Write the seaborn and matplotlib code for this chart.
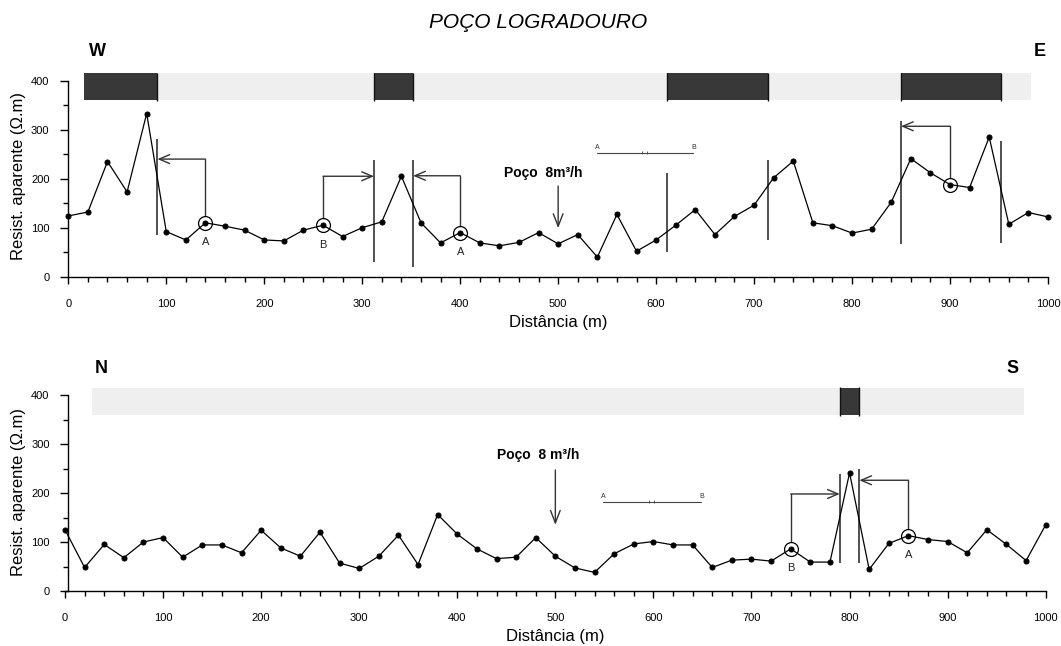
import numpy as np
import pandas as pd
import matplotlib
matplotlib.use("Agg")
import matplotlib.pyplot as plt
from matplotlib.ticker import MultipleLocator
import seaborn as sns

# ---------------- data ----------------
dist = list(range(0, 1001, 20))

# Profile W-E (apparent resistivity, ohm.m)
rho_we = [124, 132, 235, 173, 333, 92, 75, 110, 103, 95, 75, 73, 95, 105, 82,
          100, 112, 205, 110, 69, 90, 69, 63, 70, 90, 67, 86, 40, 127, 52, 75,
          105, 137, 86, 123, 146, 202, 236, 110, 104, 89, 97, 152, 241, 212,
          188, 182, 285, 107, 131, 122]

# Profile N-S
rho_ns = [125, 48, 95, 68, 100, 109, 69, 94, 94, 78, 124, 88, 71, 120, 57,
          46, 71, 114, 54, 156, 116, 86, 66, 69, 109, 71, 47, 38, 76, 96, 101,
          94, 94, 48, 63, 65, 61, 86, 59, 59, 241, 44, 97, 113, 105, 101, 78,
          125, 95, 62, 135]

# Interpretation strip: full extent and conductive (dark) zones
we_strip = (16, 983)
we_dark_start = [16, 312, 611, 850]
we_dark_end = [91, 352, 714, 952]
ns_strip = (28, 978)
ns_dark_start = [790]
ns_dark_end = [810]

# Anomaly boundaries: x, lower y, upper y
we_bound_x = [91, 312, 352, 611, 714, 850, 952]
we_bound_lo = [86, 31, 20, 51, 75, 67, 69]
we_bound_hi = [282, 238, 238, 212, 239, 318, 277]
ns_bound_x = [790, 810]
ns_bound_lo = [58, 58]
ns_bound_hi = [238, 249]

# Pole-dipole picks: station, label, height of arrow, boundary pointed at
we_pick_x = [140, 260, 400, 900]
we_pick_lbl = ["A", "B", "A", ""]
we_pick_turn = [240, 205, 206, 307]
we_pick_to = [91, 312, 352, 850]
ns_pick_x = [740, 860]
ns_pick_lbl = ["B", "A"]
ns_pick_turn = [198, 226]
ns_pick_to = [790, 810]

# Well position and discharge label
well_x = 500
we_well = dict(label="Poço  8m³/h", text_x=485, text_y=212, top=185, tip=99)
ns_well = dict(label="Poço  8 m³/h", text_x=483, text_y=277, top=247, tip=135)

# Electrode array sketch (A ---- B)
we_array = dict(x0=540, x1=638, y=253)
ns_array = dict(x0=549, x1=649, y=182)

# ---------------- style ----------------
sns.set_style("ticks")
plt.rcParams["font.family"] = ["Liberation Sans", "DejaVu Sans"]
plt.rcParams["axes.linewidth"] = 1.0
for key in ("text.color", "axes.labelcolor", "xtick.color", "ytick.color",
            "axes.edgecolor"):
    plt.rcParams[key] = "black"

W, H = 1061, 646
fig = plt.figure(figsize=(W / 100, H / 100), dpi=100)
ax_we = fig.add_axes([68.3 / W, 1 - 276.7 / H, 979.7 / W, 205.8 / H])
ax_ns = fig.add_axes([65.0 / W, 1 - 591.0 / H, 980.7 / W, 205.8 / H])

LIGHT = "#efefef"
DARK = "#383838"
ARROW_KW = dict(arrowstyle="->,head_length=0.75,head_width=0.32",
                mutation_scale=10, lw=1.0, color="#333333",
                shrinkA=0, shrinkB=0)


def draw_profile(ax, rho, strip, d0, d1, bx, blo, bhi, px, plbl, pturn, pto,
                 well, arr, edge_lines):
    df = pd.DataFrame({"dist": dist, "rho": rho})

    # interpretation strip
    ax.barh(y=387.5, width=strip[1] - strip[0], left=strip[0], height=55,
            color=LIGHT, edgecolor="none", zorder=0, clip_on=False)
    ax.barh(y=[387.5] * len(d0), width=np.subtract(d1, d0), left=d0,
            height=55, color=DARK, edgecolor="none", zorder=1, clip_on=False)
    ax.vlines(edge_lines, 358, 416, color="#111111", lw=1.0, zorder=2,
              clip_on=False)

    # resistivity profile
    sns.lineplot(data=df, x="dist", y="rho", ax=ax, color="black",
                 linewidth=0.9, marker="o", markersize=3.6,
                 markeredgecolor="black", markerfacecolor="black",
                 clip_on=False, zorder=4)

    # anomaly boundaries
    ax.vlines(bx, blo, bhi, color="#222222", lw=1.1, zorder=3)

    # picks: circle, label, L-shaped arrow to boundary
    lookup = df.set_index("dist")["rho"]
    for x, lbl, ty, tx in zip(px, plbl, pturn, pto):
        y = lookup[x]
        ax.plot([x], [y], marker="o", ms=10, mfc="none", mec="black",
                mew=0.9, zorder=5, clip_on=False)
        ax.plot([x, x], [y + 14, ty], color="#333333", lw=1.0, zorder=3)
        ax.annotate("", xy=(tx, ty), xytext=(x, ty), arrowprops=ARROW_KW,
                    zorder=3)
        if lbl:
            ax.annotate(lbl, xy=(x, y), xytext=(0, -14),
                        textcoords="offset points", ha="center", va="center",
                        fontsize=8, color="#222222")

    # well
    ax.text(well["text_x"], well["text_y"], well["label"], ha="center",
            va="center", fontsize=10, fontweight="bold")
    ax.annotate("", xy=(well_x, well["tip"]), xytext=(well_x, well["top"]),
                arrowprops=dict(ARROW_KW, arrowstyle="->,head_length=0.9,head_width=0.35"))

    # electrode array sketch
    ax.plot([arr["x0"], arr["x1"]], [arr["y"], arr["y"]], color="#444444",
            lw=0.8)
    xm = (arr["x0"] + arr["x1"]) / 2
    ax.vlines([xm - 3, xm + 2], arr["y"] - 3, arr["y"] + 4, color="#444444",
              lw=0.6)
    ax.text(arr["x0"], arr["y"] + 10, "A", fontsize=5, ha="center",
            va="center", color="#333333")
    ax.text(arr["x1"], arr["y"] + 10, "B", fontsize=5, ha="center",
            va="center", color="#333333")

    # axes
    ax.set_xlim(0, 1000)
    ax.set_ylim(0, 420)
    sns.despine(ax=ax)
    ax.spines["left"].set_bounds(0, 400)
    ax.xaxis.set_major_locator(MultipleLocator(100))
    ax.xaxis.set_minor_locator(MultipleLocator(20))
    ax.yaxis.set_major_locator(MultipleLocator(100))
    ax.yaxis.set_minor_locator(MultipleLocator(50))
    ax.set_yticks([0, 100, 200, 300, 400])
    ax.tick_params(axis="x", which="major", length=5, width=1, pad=11,
                   labelsize=8, direction="out")
    ax.tick_params(axis="x", which="minor", length=3.5, width=1,
                   direction="out")
    ax.tick_params(axis="y", which="major", length=5.5, width=1, pad=8,
                   labelsize=8, direction="out")
    ax.tick_params(axis="y", which="minor", length=3.5, width=1,
                   direction="out")
    ax.set_xlabel("Distância (m)", fontsize=12)
    ax.set_ylabel("Resist. aparente (\u03a9.m)", fontsize=12)
    ax.xaxis.set_label_coords(0.5, -0.185)
    ax.yaxis.set_label_coords(-0.043, 0.49)
    ax.patch.set_alpha(0)


draw_profile(ax_we, rho_we, we_strip, we_dark_start, we_dark_end,
             we_bound_x, we_bound_lo, we_bound_hi,
             we_pick_x, we_pick_lbl, we_pick_turn, we_pick_to,
             we_well, we_array, we_bound_x)
draw_profile(ax_ns, rho_ns, ns_strip, ns_dark_start, ns_dark_end,
             ns_bound_x, ns_bound_lo, ns_bound_hi,
             ns_pick_x, ns_pick_lbl, ns_pick_turn, ns_pick_to,
             ns_well, ns_array, ns_bound_x)
ax_ns.spines["left"].set_position(("data", 3.4))
ax_ns.yaxis.set_label_coords(-0.040, 0.48)

fig.text(538 / W, 1 - 23 / H, "POÇO LOGRADOURO", ha="center", va="center",
         fontsize=15, fontstyle="italic")
for s, x, y in [("W", 97.5, 51.5), ("E", 1040, 51.5),
                ("N", 101.5, 368.5), ("S", 1013, 368.5)]:
    fig.text(x / W, 1 - y / H, s, ha="center", va="center", fontsize=13,
             fontweight="bold")

fig.savefig("out.png", dpi=100)
